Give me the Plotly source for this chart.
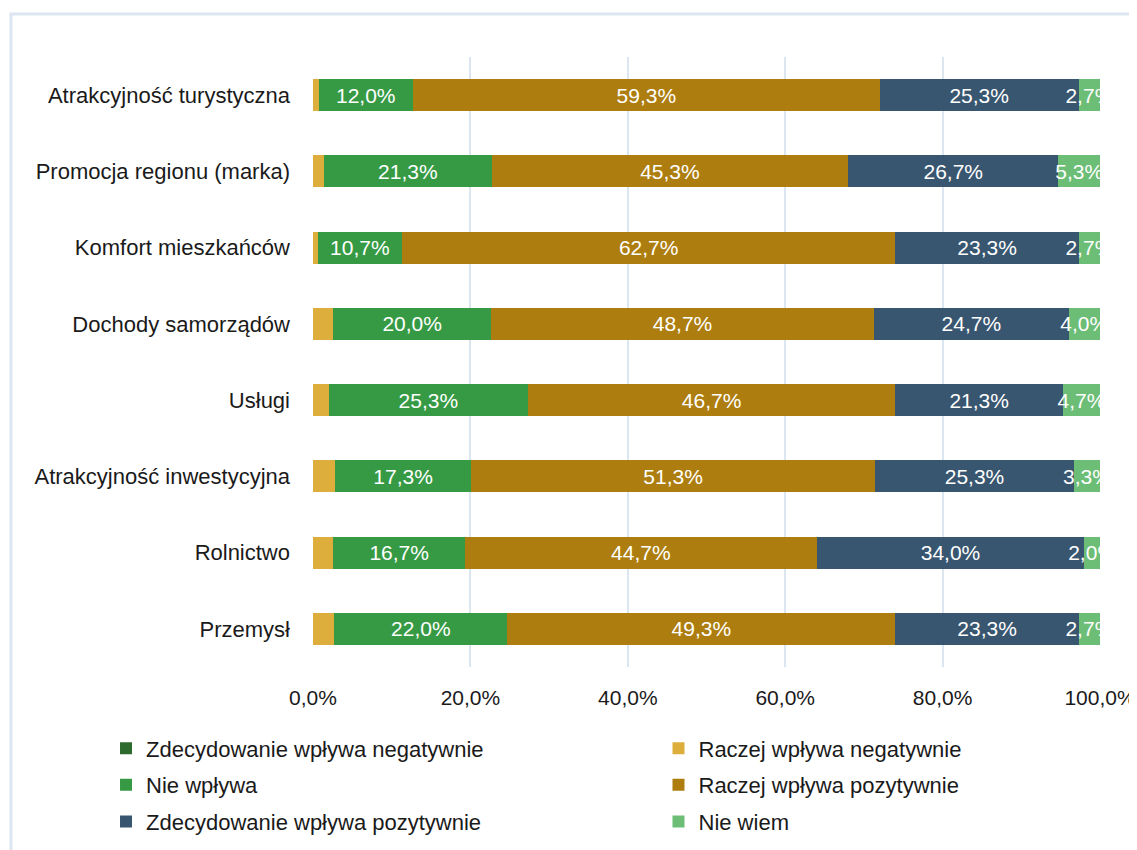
import plotly.graph_objects as go

categories = [
    "Atrakcyjność turystyczna",
    "Promocja regionu (marka)",
    "Komfort mieszkańców",
    "Dochody samorządów",
    "Usługi",
    "Atrakcyjność inwestycyjna",
    "Rolnictwo",
    "Przemysł",
]

zdec_neg = [0.0, 0.0, 0.0, 0.0, 0.0, 0.0, 0.0, 0.0]
raczej_neg = [0.7, 1.4, 0.6, 2.6, 2.0, 2.8, 2.6, 2.7]
nie_wplywa = [12.0, 21.3, 10.7, 20.0, 25.3, 17.3, 16.7, 22.0]
raczej_poz = [59.3, 45.3, 62.7, 48.7, 46.7, 51.3, 44.7, 49.3]
zdec_poz = [25.3, 26.7, 23.3, 24.7, 21.3, 25.3, 34.0, 23.3]
nie_wiem = [2.7, 5.3, 2.7, 4.0, 4.7, 3.3, 2.0, 2.7]

x_ticks = [0, 20, 40, 60, 80, 100]
x_tick_labels = ["0,0%", "20,0%", "40,0%", "60,0%", "80,0%", "100,0%"]

series = [
    ("Zdecydowanie wpływa negatywnie", zdec_neg, "#2D6A2D", False, "legend"),
    ("Raczej wpływa negatywnie", raczej_neg, "#DDAE3C", False, "legend2"),
    ("Nie wpływa", nie_wplywa, "#369A45", True, "legend"),
    ("Raczej wpływa pozytywnie", raczej_poz, "#AD7E0F", True, "legend2"),
    ("Zdecydowanie wpływa pozytywnie", zdec_poz, "#385670", True, "legend"),
    ("Nie wiem", nie_wiem, "#6CBD76", True, "legend2"),
]

FONT = "Liberation Sans"

# page body adds 8px offset, so margins are shifted by that much
W, H = 1137, 842
L, T, PW, PH = 305, 49, 787, 610


def fmt(v):
    return f"{v:.1f}%".replace(".", ",")


fig = go.Figure()
for name, vals, color, labels, leg in series:
    fig.add_trace(go.Bar(
        y=categories, x=vals, name=name, orientation="h",
        marker=dict(color=color, line=dict(width=0)),
        text=[fmt(v) for v in vals] if labels else None,
        textposition="inside" if labels else "none",
        insidetextanchor="middle", constraintext="none", textangle=0,
        textfont=dict(color="white", size=21, family=FONT),
        legend=leg, legendgroup=name, cliponaxis=True,
        hoverinfo="x+name",
    ))

fig.update_layout(
    barmode="stack", bargap=0.58,
    width=W, height=H,
    paper_bgcolor="white", plot_bgcolor="white",
    margin=dict(l=L, r=W - L - PW, t=T, b=H - T - PH, autoexpand=False),
    font=dict(family=FONT, size=22, color="#1a1a1a"),
    xaxis=dict(
        range=[0, 100], tickvals=x_ticks, ticktext=x_tick_labels,
        showgrid=True, gridcolor="#DCE6F1", gridwidth=2,
        zeroline=False, showline=False, ticks="",
        ticklabelstandoff=16, automargin=False,
        tickfont=dict(size=21), fixedrange=True,
    ),
    yaxis=dict(
        autorange="reversed", showgrid=False, zeroline=False,
        ticks="", ticklabelstandoff=22, automargin=False,
        tickfont=dict(size=22),
    ),
    legend=dict(
        x=-0.263, y=-0.099, xanchor="left", yanchor="top",
        orientation="v", tracegroupgap=5, font=dict(size=22),
        itemwidth=30, bgcolor="rgba(0,0,0,0)",
    ),
    legend2=dict(
        x=0.439, y=-0.099, xanchor="left", yanchor="top",
        orientation="v", tracegroupgap=5, font=dict(size=22),
        itemwidth=30, bgcolor="rgba(0,0,0,0)",
    ),
    showlegend=True,
    shapes=[dict(
        type="rect", xref="paper", yref="paper",
        x0=(3 - L) / PW, x1=(W + 20 - L) / PW,
        y0=(T + PH - (H + 20)) / PH, y1=1 + (T - 6) / PH,
        line=dict(color="#DCE6F1", width=3), layer="below",
    )],
)

fig.write_html("out.html")
